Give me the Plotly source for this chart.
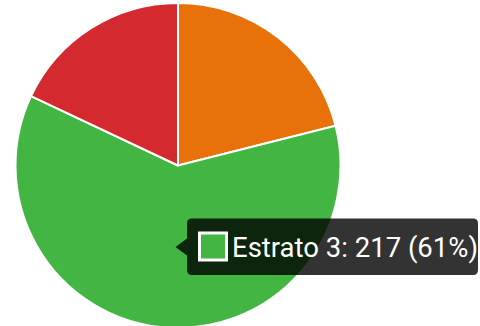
import plotly.graph_objects as go

# Survey answers by socioeconomic stratum
labels = ["Estrato 2", "Estrato 3", "Estrato 4"]
values = [75, 217, 64]
colors = ["#E8710A", "#43B543", "#D42A2F"]

W, H = 480, 331


def px(x):
    return x / W


def py(y):
    return 1 - y / H


fig = go.Figure(
    go.Pie(
        labels=labels,
        values=values,
        sort=False,
        direction="clockwise",
        rotation=0,
        marker=dict(colors=colors, line=dict(color="white", width=2)),
        textinfo="none",
        hoverinfo="none",
        showlegend=False,
        domain=dict(x=[px(15.5), px(340.5)], y=[py(328), py(3)]),
    )
)

# Tooltip for the highlighted slice
idx = 1
pct = round(100 * values[idx] / sum(values))
tip_text = f"{labels[idx]}: {values[idx]} ({pct}%)"

bx0, bx1, by0, by1, r = 187, 478, 218.5, 275, 5
box_path = (
    f"M {px(bx0 + r)},{py(by0)} L {px(bx1 - r)},{py(by0)} "
    f"Q {px(bx1)},{py(by0)} {px(bx1)},{py(by0 + r)} "
    f"L {px(bx1)},{py(by1 - r)} Q {px(bx1)},{py(by1)} {px(bx1 - r)},{py(by1)} "
    f"L {px(bx0 + r)},{py(by1)} Q {px(bx0)},{py(by1)} {px(bx0)},{py(by1 - r)} "
    f"L {px(bx0)},{py(255.5)} L {px(175.5)},{py(247)} L {px(bx0)},{py(238.5)} "
    f"L {px(bx0)},{py(by0 + r)} Q {px(bx0)},{py(by0)} {px(bx0 + r)},{py(by0)} Z"
)

shapes = [
    dict(
        type="path",
        xref="paper",
        yref="paper",
        path=box_path,
        fillcolor="rgba(0,0,0,0.8)",
        line=dict(width=0),
    ),
    dict(
        type="rect",
        xref="paper",
        yref="paper",
        x0=px(199.5),
        x1=px(226.5),
        y0=py(260),
        y1=py(233),
        fillcolor=colors[idx],
        line=dict(color="white", width=3),
    ),
]

fig.update_layout(
    width=W,
    height=H,
    margin=dict(l=0, r=0, t=0, b=0),
    paper_bgcolor="white",
    plot_bgcolor="white",
    shapes=shapes,
    annotations=[
        dict(
            text=tip_text,
            xref="paper",
            yref="paper",
            x=px(229.5),
            y=py(247.5),
            xanchor="left",
            yanchor="middle",
            showarrow=False,
            font=dict(family="Roboto", size=27.5, color="white"),
        )
    ],
)

fig.write_html(
    "out.html",
    post_script="document.documentElement.style.overflow='hidden';document.body.style.overflow='hidden';",
)
